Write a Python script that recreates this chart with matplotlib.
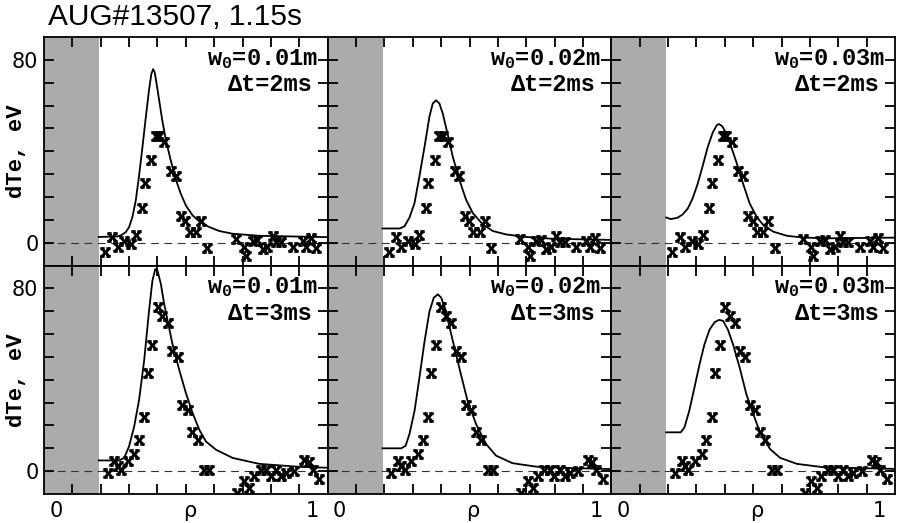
import numpy as np
import matplotlib
matplotlib.use("Agg")
import matplotlib.pyplot as plt
from matplotlib.path import Path

plt.rcParams['mathtext.fontset'] = 'custom'
plt.rcParams['mathtext.rm'] = 'Liberation Mono:bold'
plt.rcParams['mathtext.it'] = 'Liberation Mono:bold'
plt.rcParams['mathtext.bf'] = 'Liberation Mono:bold'

# measured points (same data in every column of a row)
rho_2ms = [0.191, 0.220, 0.240, 0.266, 0.292, 0.311, 0.335, 0.346, 0.370, 0.389, 0.402, 0.422,
           0.448, 0.467, 0.487, 0.504, 0.522, 0.546, 0.565, 0.591, 0.702, 0.734, 0.741, 0.767,
           0.786, 0.806, 0.825, 0.845, 0.858, 0.878, 0.923, 0.962, 0.975, 0.995, 1.014]
dte_2ms = [-4.3, 2.5, -1.9, 0.6, -0.4, 3.5, 15.1, 26.0, 36.0, 46.7, 46.7, 44.0,
           31.4, 29.3, 11.6, 9.3, 4.6, 4.6, 9.3, -2.3, 1.5, -1.9, -5.9, 0.6,
           1.0, -2.9, -1.9, 2.9, 0.3, 0.3, -1.9, 0.6, -1.9, 2.0, -2.3]

rho_3ms = [0.201, 0.227, 0.240, 0.253, 0.279, 0.305, 0.324, 0.344, 0.357, 0.376, 0.396, 0.415,
           0.435, 0.454, 0.474, 0.493, 0.513, 0.532, 0.552, 0.578, 0.598, 0.708, 0.734, 0.754,
           0.773, 0.799, 0.819, 0.838, 0.858, 0.878, 0.897, 0.930, 0.969, 0.986, 1.001, 1.027]
dte_3ms = [-0.7, 4.4, 2.2, 0.7, 4.4, 7.3, 13.8, 23.9, 42.8, 55.1, 71.7, 67.7,
           64.8, 52.6, 50.0, 29.0, 26.8, 17.0, 13.8, 0.4, 0.4, -9.4, -4.3, -7.2,
           -2.2, 0.4, 0.4, -2.2, 0.4, -1.9, -0.7, -0.1, 5.1, 3.9, 0.4, -3.6]

# model curves
fit_rho_01_2 = [0.167, 0.24, 0.255, 0.272, 0.285, 0.298, 0.311, 0.324, 0.337, 0.350, 0.363, 0.372,
                0.379, 0.385, 0.393, 0.402, 0.415, 0.428, 0.448, 0.467, 0.487, 0.507, 0.533, 0.559,
                0.598, 0.637, 0.689, 0.793, 1.06]
fit_dte_01_2 = [2.5, 2.7, 3.3, 4.6, 6.8, 11.2, 18.4, 29.3, 41.6, 54.6, 67.0, 73.9,
                75.9, 74.5, 69.1, 62.6, 53.2, 45.2, 35.8, 27.8, 21.3, 16.2, 11.9, 9.3,
                6.8, 5.1, 3.9, 3.0, 2.4]
fit_rho_02_2 = [0.167, 0.234, 0.253, 0.272, 0.292, 0.311, 0.331, 0.350, 0.363, 0.376, 0.389, 0.402,
                0.422, 0.441, 0.467, 0.493, 0.519, 0.558, 0.597, 0.649, 0.726, 0.830, 1.06]
fit_dte_02_2 = [6.2, 6.2, 7.2, 10.9, 17.4, 29.0, 42.0, 55.1, 60.9, 62.3, 60.9, 56.5,
                47.1, 37.7, 27.5, 18.8, 13.0, 8.0, 5.1, 3.6, 2.5, 1.7, 1.2]
fit_rho_03_2 = [0.167, 0.185, 0.211, 0.231, 0.251, 0.270, 0.290, 0.310, 0.329, 0.349, 0.365, 0.373,
                0.386, 0.402, 0.421, 0.441, 0.467, 0.493, 0.520, 0.546, 0.585, 0.638, 0.703, 0.808,
                1.06]
fit_dte_03_2 = [11.0, 10.3, 10.9, 12.3, 14.9, 19.3, 25.8, 33.8, 41.8, 48.3, 51.5, 51.9,
                50.9, 47.6, 41.8, 35.2, 25.8, 17.1, 11.3, 7.7, 4.8, 3.0, 2.2, 1.9,
                2.2]
fit_rho_01_3 = [0.167, 0.246, 0.266, 0.285, 0.305, 0.324, 0.344, 0.363, 0.376, 0.387, 0.396, 0.409,
                0.422, 0.435, 0.454, 0.481, 0.507, 0.533, 0.559, 0.585, 0.624, 0.689, 0.793, 0.949,
                1.06]
fit_dte_01_3 = [4.7, 4.7, 5.8, 10.9, 19.6, 31.2, 48.6, 70.3, 83.3, 88.4, 87.7, 81.9,
                73.2, 66.0, 55.8, 44.2, 34.1, 25.4, 18.1, 13.0, 9.4, 5.8, 3.2, 1.9,
                1.5]
fit_rho_02_3 = [0.167, 0.240, 0.257, 0.272, 0.292, 0.311, 0.331, 0.350, 0.367, 0.383, 0.396, 0.413,
                0.428, 0.448, 0.473, 0.499, 0.532, 0.571, 0.610, 0.674, 0.765, 0.895, 1.06]
fit_dte_02_3 = [10.0, 10.0, 11.1, 16.2, 26.4, 40.9, 56.8, 69.8, 75.9, 77.4, 75.9, 70.6,
                63.3, 53.9, 42.3, 30.7, 20.6, 11.9, 6.8, 3.5, 2.0, 1.4, 0.9]
fit_rho_03_3 = [0.167, 0.224, 0.238, 0.257, 0.277, 0.297, 0.316, 0.336, 0.356, 0.373, 0.389, 0.408,
                0.428, 0.454, 0.480, 0.507, 0.533, 0.572, 0.612, 0.677, 0.782, 1.06]
fit_dte_03_3 = [17.0, 17.0, 19.1, 26.4, 36.5, 46.7, 55.4, 61.9, 65.2, 66.2, 65.8, 61.9,
                55.4, 45.2, 33.6, 24.9, 17.0, 9.7, 5.8, 3.2, 1.7, 1.0]

w0_labels = ["0.01", "0.02", "0.03"]
dt_labels = ["2", "3"]
gray_edge = 0.167

fits = [[(fit_rho_01_2, fit_dte_01_2), (fit_rho_02_2, fit_dte_02_2), (fit_rho_03_2, fit_dte_03_2)],
        [(fit_rho_01_3, fit_dte_01_3), (fit_rho_02_3, fit_dte_02_3), (fit_rho_03_3, fit_dte_03_3)]]
data = [(rho_2ms, dte_2ms), (rho_3ms, dte_3ms)]

# hourglass-like "x" marker, like the bold courier x on the scan
verts = [(-1, -1), (1, 1), (-1, 1), (1, -1),
         (-1.3, 1), (-0.2, 1), (0.2, 1), (1.3, 1),
         (-1.3, -1), (-0.2, -1), (0.2, -1), (1.3, -1)]
codes = [Path.MOVETO, Path.LINETO] * 6
xmark = Path(verts, codes)

xlim = (-0.047, 1.06)
ylim = (-10, 90)
mono = 'Liberation Mono'

fig, axes = plt.subplots(2, 3, figsize=(8.98, 5.23), dpi=100)
fig.subplots_adjust(left=0.049, right=0.9967, bottom=0.0554, top=0.9293, wspace=0, hspace=0)

for r in range(2):
    for c in range(3):
        ax = axes[r, c]
        ax.axvspan(xlim[0], gray_edge, color='#ababab', lw=0, zorder=0)
        ax.axhline(0, color='#333333', lw=0.8, ls=(0, (7, 5)), zorder=1)
        fr, fd = fits[r][c]
        ax.plot(fr, fd, color='black', lw=1.3, zorder=2)
        dr, dd = data[r]
        ax.plot(dr, dd, ls='none', marker=xmark, ms=7.5, mew=1.9, color='black', zorder=3)
        ax.set_xlim(*xlim)
        ax.set_ylim(*ylim)

        ax.set_xticks([0, 0.52, 1])
        ax.set_xticklabels(['0', 'ρ', '1'] if r == 1 else [])
        ax.set_xticks(np.linspace(xlim[0], xlim[1], 11)[1:-1], minor=True)
        ax.tick_params(axis='x', which='major', length=0, pad=5, labelsize=15)
        ax.tick_params(axis='x', which='minor', direction='in', length=7, width=1.3,
                       top=True, bottom=True)

        ax.set_yticks(np.arange(0, 90, 10))
        if c == 0:
            ax.set_yticklabels(['0', '', '', '', '', '', '', '', '80'])
            ax.set_ylabel('dTe, eV', family=mono, fontsize=16, fontweight='bold')
            ax.yaxis.set_label_coords(-0.06, 0.5)
        else:
            ax.set_yticklabels([])
        ax.tick_params(axis='y', direction='in', length=7, width=1.3, left=True, right=True,
                       labelsize=15, pad=4)
        for s in ax.spines.values():
            s.set_linewidth(1.3)

        ax.text(0.965, 0.905, r"w$_0$=" + w0_labels[c] + "m", transform=ax.transAxes,
                ha='right', va='center', family=mono, fontsize=17, fontweight='bold')
        ax.text(0.945, 0.79, "Δt=" + dt_labels[r] + "ms", transform=ax.transAxes,
                ha='right', va='center', family=mono, fontsize=17, fontweight='bold')

fig.text(0.053, 0.967, "AUG#13507, 1.15s", family='Liberation Sans', fontsize=21.5,
         ha='left', va='center')

fig.savefig("out.png", dpi=100)
